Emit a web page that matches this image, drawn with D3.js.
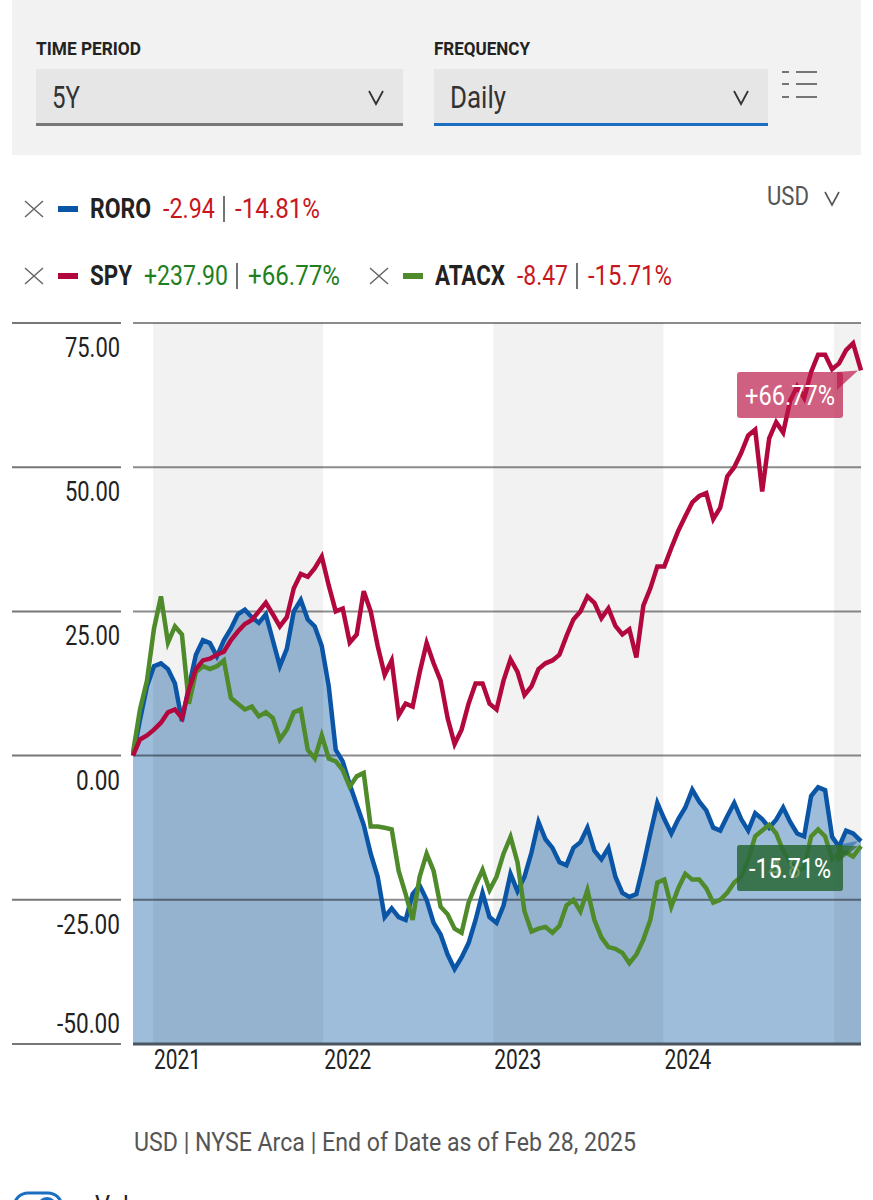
<!DOCTYPE html>
<html>
<head>
<meta charset="utf-8">
<script src="https://cdn.jsdelivr.net/npm/d3@7"></script>
<style>
  html, body { margin: 0; padding: 0; background: #fff; }
  svg { display: block; font-family: "Roboto", "Liberation Sans", sans-serif; }
</style>
</head>
<body>
<div id="chart"></div>
<script>
// Sample dates (every ~15 days)
const dates = [
  "2020-11-19","2020-12-04","2020-12-19",
  "2021-01-03","2021-01-18","2021-02-02","2021-02-17","2021-03-04","2021-03-19","2021-04-03","2021-04-18",
  "2021-05-03","2021-05-18","2021-06-02","2021-06-17","2021-07-02","2021-07-17","2021-08-01","2021-08-16",
  "2021-08-31","2021-09-15","2021-09-30","2021-10-15","2021-10-30","2021-11-14","2021-11-29","2021-12-14","2021-12-29",
  "2022-01-13","2022-01-28","2022-02-12","2022-02-27","2022-03-14","2022-03-29","2022-04-13","2022-04-28",
  "2022-05-13","2022-05-28","2022-06-12","2022-06-27","2022-07-12","2022-07-27","2022-08-11","2022-08-26",
  "2022-09-10","2022-09-25","2022-10-10","2022-10-25","2022-11-09","2022-11-24","2022-12-09","2022-12-24",
  "2023-01-08","2023-01-23","2023-02-07","2023-02-22","2023-03-09","2023-03-24","2023-04-08","2023-04-23",
  "2023-05-08","2023-05-23","2023-06-07","2023-06-22","2023-07-07","2023-07-22","2023-08-06","2023-08-21",
  "2023-09-05","2023-09-20","2023-10-05","2023-10-20","2023-11-04","2023-11-19","2023-12-04","2023-12-19",
  "2024-01-03","2024-01-18","2024-02-02","2024-02-17","2024-03-03","2024-03-18","2024-04-02","2024-04-17",
  "2024-05-02","2024-05-17","2024-06-01","2024-06-16","2024-07-01","2024-07-16","2024-07-31","2024-08-15",
  "2024-08-30","2024-09-14","2024-09-29","2024-10-14","2024-10-29","2024-11-13","2024-11-28","2024-12-13","2024-12-28",
  "2025-01-12","2025-01-27","2025-02-11","2025-02-28"
];

// % change from start
const roro = [
  0, 6.2, 12,
  15.5, 16, 15, 12.5, 6, 12, 17.5, 20, 19.5, 17.2, 20, 22, 24.5, 25.3, 24, 23, 24.5, 20, 15.5, 18.5, 25, 27, 23.6, 22.4, 19,
  12, 1, -1, -5, -8.5, -12, -17, -21, -28, -26.5, -28, -28.5, -24, -22.5, -25, -29, -31, -34.5, -37, -35, -32.5, -28.5, -23.8, -28,
  -29, -26, -20.5, -23.5, -21, -16.8, -11.5, -14.5, -16, -18.5, -19, -16, -15, -12.5, -16.5, -18, -16, -21, -23.8, -24.5, -24, -19, -13.5, -8.2,
  -11, -13.5, -11, -9, -5.9, -8, -9.5, -12.5, -13, -10.5, -8.2, -11, -13, -10, -11, -12.5, -11.1, -9, -11.5, -13.5, -14, -7, -5.5, -6, -14.1,
  -15.8, -13, -13.5, -14.81
];
const spy = [
  0, 2.8, 3.5,
  4.5, 5.7, 7.5, 8, 6.5, 11.5, 15, 16.5, 16.8, 17.5, 18, 20, 21.5, 22.8, 23.5, 25, 26.5, 24.5, 22.4, 24, 29, 31.5, 31, 32.5, 34.5,
  29.5, 25, 25.5, 19.6, 21, 28.5, 25, 19, 14, 16.5, 7, 9, 8.5, 14.4, 19.5, 16, 13, 6.5, 2, 4.5, 9, 12.5, 12.5, 9,
  8, 13, 16.7, 14.5, 10.5, 12, 15, 16, 16.5, 17.5, 20.7, 23.6, 25, 27.6, 26.5, 23.8, 25.5, 22.5, 21, 21.9, 17, 26, 29, 32.8,
  32.8, 36, 39, 41.5, 43.9, 45, 45.5, 41, 43, 48.4, 50, 52.5, 55.5, 56.5, 45.8, 55, 57.8, 56, 61.5, 64, 62, 66.5, 69.5, 69.5, 67,
  68, 70.3, 71.5, 66.77
];
const atacx = [
  0.5, 8, 13,
  22, 27.6, 19.6, 22.4, 21, 9, 14.5, 15.5, 15, 15.5, 16.5, 10, 9, 8, 8.5, 6.8, 7.5, 6.5, 2.8, 4.5, 7.5, 8, 1, -0.5, 3.5,
  -0.5, -1, -2.5, -5.4, -3.6, -3, -12.3, -12.3, -12.5, -12.8, -20, -24, -28.5, -21, -17, -20, -26.2, -27.5, -30, -30.7, -25.5, -22.5, -19.8, -23.3,
  -21, -17, -14.1, -18.5, -27, -30.5, -30, -29.7, -30.7, -29.5, -26, -25, -27, -23.3, -28.5, -31.5, -33.2, -33.5, -34.2, -36, -34.5, -31.9, -28.5, -22,
  -21.5, -26.2, -23, -20.5, -21.5, -21.5, -23, -25.5, -25, -23.8, -22, -21, -18, -14, -13, -12, -13.5, -16.5, -18.5, -20, -19.5, -14, -12.8, -14, -18,
  -17, -16.8, -17.5, -15.71
];

const yTicks = [-50, -25, 0, 25, 50, 75];
const yearTicks = ["2021-01-01", "2022-01-01", "2023-01-01", "2024-01-01"];
const bandStarts = ["2021-01-01", "2023-01-01", "2025-01-01"];

const series = [
  { name: "RORO", values: roro, color: "#0b55a6", change: "-2.94", pct: "-14.81%", up: false },
  { name: "SPY", values: spy, color: "#b3083e", change: "+237.90", pct: "+66.77%", up: true },
  { name: "ATACX", values: atacx, color: "#4f8a2b", change: "-8.47", pct: "-15.71%", up: false }
];

const width = 873, height = 1200;
const parse = d3.timeParse("%Y-%m-%d");
const dd = dates.map(parse);
const RED = "#c8161d", GREEN = "#1f7f22";

const svg = d3.select("#chart").append("svg")
  .attr("width", width)
  .attr("height", height);

// condensed text: squeeze the glyphs into the width measured on the reference
function txt(xl, yb, str, size, w, color, weight) {
  return svg.append("text")
    .attr("x", xl).attr("y", yb)
    .attr("font-size", size)
    .attr("font-weight", weight || "normal")
    .attr("fill", color || "#222")
    .attr("textLength", w)
    .attr("lengthAdjust", "spacingAndGlyphs")
    .text(str);
}

// ---- top control panel
svg.append("rect").attr("x", 12).attr("y", 0).attr("width", 849).attr("height", 155).attr("fill", "#f2f2f2");

function dropdown(x, w, label, labelW, value, valueW, lineColor) {
  txt(x, 55, label, 18, labelW, "#222", "bold");
  svg.append("rect").attr("x", x).attr("y", 69).attr("width", w).attr("height", 56).attr("fill", "#e6e6e6");
  svg.append("rect").attr("x", x).attr("y", 123).attr("width", w).attr("height", 3).attr("fill", lineColor);
  txt(x + 16, 108, value, 31, valueW, "#333");
  svg.append("path")
    .attr("d", `M${x + w - 34},91 L${x + w - 27},104 L${x + w - 20},91`)
    .attr("fill", "none").attr("stroke", "#333").attr("stroke-width", 1.8);
}
dropdown(36, 367, "TIME PERIOD", 105, "5Y", 28, "#777");
dropdown(434, 334, "FREQUENCY", 96, "Daily", 56, "#1a6fc2");

// list icon
[72, 84, 97].forEach(y => {
  svg.append("line").attr("x1", 782).attr("x2", 789).attr("y1", y).attr("y2", y).attr("stroke", "#555").attr("stroke-width", 1.6);
  svg.append("line").attr("x1", 796).attr("x2", 817).attr("y1", y).attr("y2", y).attr("stroke", "#555").attr("stroke-width", 1.6);
});

// ---- legend
function cross(x, y) {
  svg.append("path")
    .attr("d", `M${x},${y - 8} L${x + 18},${y + 8} M${x + 18},${y - 8} L${x},${y + 8}`)
    .attr("stroke", "#666").attr("stroke-width", 1.5).attr("fill", "none");
}
function legendItem(x, yc, s, w) {
  cross(x, yc);
  svg.append("rect").attr("x", x + 33).attr("y", yc - 3).attr("width", 20).attr("height", 6).attr("fill", s.color);
  const c = s.up ? GREEN : RED;
  const yb = yc + 9;
  let cx = x + 65;
  txt(cx, yb, s.name, 28, w[0], "#222", "bold");
  cx += w[0] + 12;
  txt(cx, yb, s.change, 28, w[1], c);
  cx += w[1] + 9;
  svg.append("line").attr("x1", cx).attr("x2", cx).attr("y1", yb - 22).attr("y2", yb + 4)
    .attr("stroke", "#444").attr("stroke-width", 1.5);
  cx += 11;
  txt(cx, yb, s.pct, 28, w[2], c);
}
legendItem(25, 209, series[0], [61, 52, 85]);
legendItem(25, 276, series[1], [42, 84, 92]);
legendItem(370, 276, series[2], [70, 51, 84]);

txt(767, 205, "USD", 26, 42, "#555");
svg.append("path").attr("d", "M825,192 L832,205 L839,192").attr("fill", "none").attr("stroke", "#555").attr("stroke-width", 1.6);

// ---- chart
const x0 = 133, x1 = 861, yTop = 323, yBot = 1044;
const x = d3.scaleTime().domain([dd[0], dd[dd.length - 1]]).range([x0, x1]);
const y = d3.scaleLinear().domain([-50, 75]).range([yBot, yTop]);

// area under RORO
const area = d3.area()
  .x((d, i) => x(dd[i]))
  .y0(y(-50))
  .y1(d => y(d));
svg.append("path").datum(roro).attr("d", area).attr("fill", "#9ebddb");

// alternating year bands
bandStarts.map(parse).forEach(b => {
  const end = d3.min([d3.timeYear.offset(b, 1), dd[dd.length - 1]]);
  svg.append("rect")
    .attr("x", x(b)).attr("y", yTop)
    .attr("width", x(end) - x(b)).attr("height", yBot - yTop)
    .attr("fill", "rgba(0,0,0,0.05)");
});

// gridlines + left label rules
const fmt = v => d3.format(".2f")(v).replace("\u2212", "-");
yTicks.forEach(t => {
  if (t !== -50) {
    svg.append("line").attr("x1", x0).attr("x2", x1).attr("y1", y(t)).attr("y2", y(t))
      .attr("stroke", "rgba(0,0,0,0.45)").attr("stroke-width", 2);
  }
  svg.append("line").attr("x1", 12).attr("x2", 121).attr("y1", y(t)).attr("y2", y(t))
    .attr("stroke", "#777").attr("stroke-width", 2);
  const s = fmt(t);
  const w = s.length * 11 + (s.startsWith("-") ? -3 : 0);
  txt(120 - w, t === -50 ? y(t) - 11 : y(t) + 34, s, 28, w, "#222");
});

// lines
const line = d3.line().x((d, i) => x(dd[i])).y(d => y(d));
[series[0], series[2], series[1]].forEach(s => {
  svg.append("path").datum(s.values).attr("d", line)
    .attr("fill", "none").attr("stroke", s.color).attr("stroke-width", 4.5)
    .attr("stroke-linejoin", "miter");
});

// bottom axis line
svg.append("line").attr("x1", x0).attr("x2", x1).attr("y1", yBot).attr("y2", yBot)
  .attr("stroke", "#4a5560").attr("stroke-width", 3);

// x labels
yearTicks.map(parse).forEach(t => {
  txt(x(t) + 1, 1069, d3.timeFormat("%Y")(t), 27, 47, "#222");
});

// end-value labels
function endLabel(s, bx, by, fill, tw) {
  const last = s.values[s.values.length - 1];
  const px = x(dd[dd.length - 1]), py = y(last);
  svg.append("path")
    .attr("d", `M${bx + 100},${by} L${px - 3},${py} L${bx + 100},${by + 18} Z`)
    .attr("fill", fill);
  svg.append("rect").attr("x", bx).attr("y", by).attr("width", 106).attr("height", 46)
    .attr("rx", 3).attr("fill", fill);
  txt(bx + 53 - tw / 2, by + 33, s.pct, 28, tw, "#fff");
}
endLabel(series[0], 737, 845, "rgba(11,85,166,0.5)", 82);
endLabel(series[2], 737, 845, "rgba(50,110,40,0.75)", 82);
endLabel(series[1], 737, 372, "rgba(185,20,70,0.68)", 90);

// footer
txt(134, 1151, "USD | NYSE Arca | End of Date as of Feb 28, 2025", 26, 502, "#555");

// volume toggle (cut off at bottom of the screenshot)
svg.append("rect").attr("x", 14).attr("y", 1193).attr("width", 48).attr("height", 28).attr("rx", 14)
  .attr("fill", "#fff").attr("stroke", "#1a6fc2").attr("stroke-width", 3);
svg.append("circle").attr("cx", 47).attr("cy", 1207).attr("r", 10).attr("fill", "#1a6fc2");
txt(95, 1214, "Volume", 26, 80, "#222");
</script>
</body>
</html>
